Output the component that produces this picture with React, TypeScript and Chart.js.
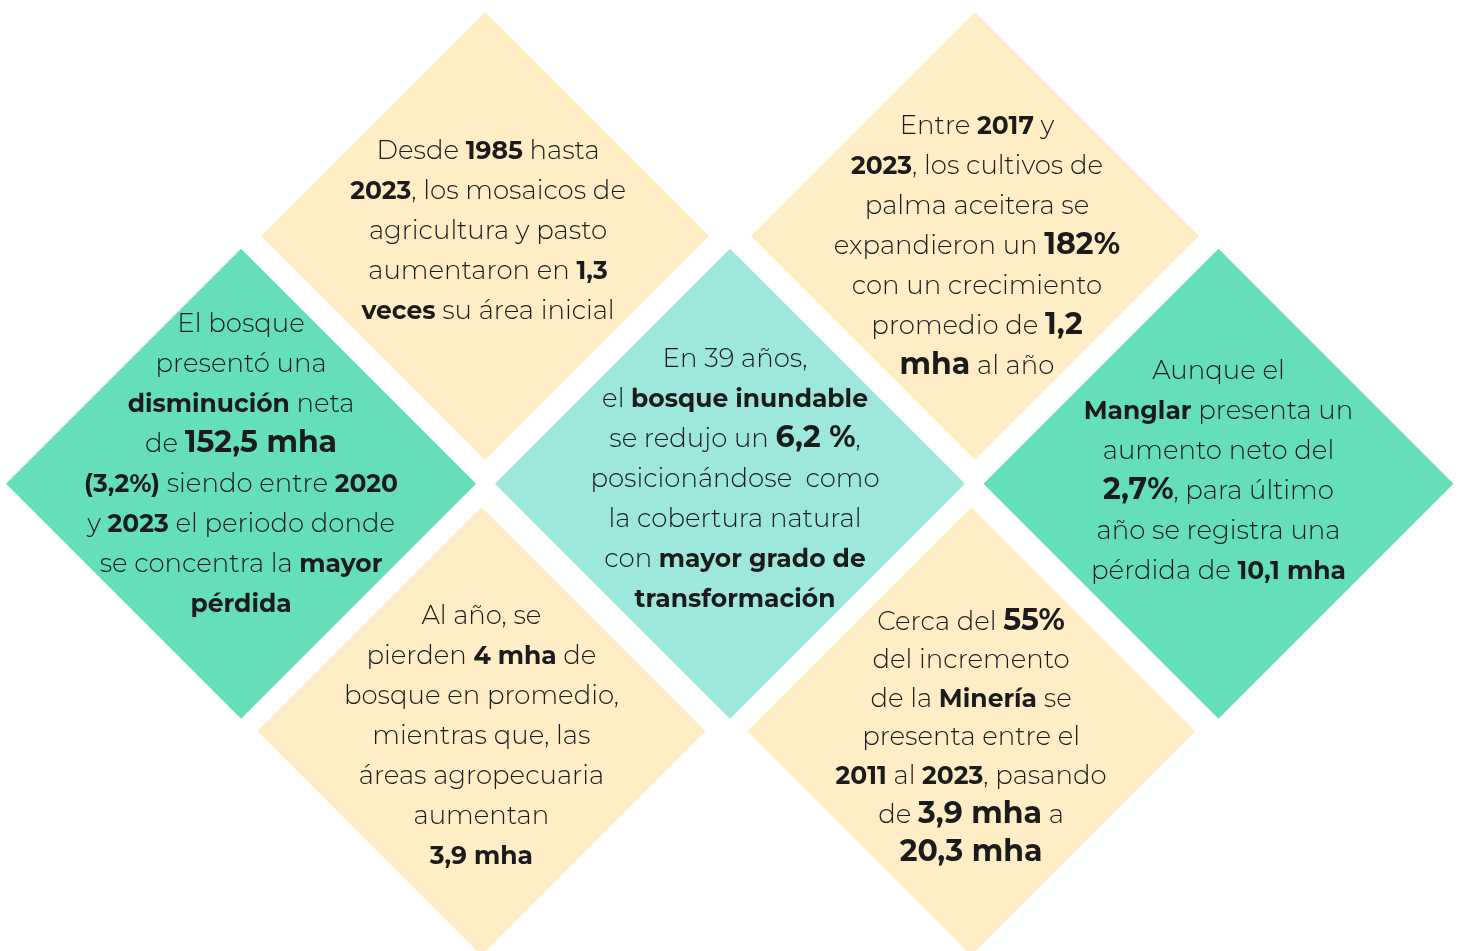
import React, { useEffect, useRef } from 'react';
import { Chart, registerables } from 'chart.js';

Chart.register(...registerables);

// Diamond grid positions (column / row units) and categories
const diamondCols = [1.992, 4.004, 0.99, 2.998, 5.004, 1.977, 3.988];
const diamondRows = [0, 0, 1, 1, 1, 2, 2];
const diamondKinds = ['agro', 'agro', 'bosque', 'inundable', 'bosque', 'agro', 'agro'];
const diamondHalf = [0.92, 0.92, 0.965, 0.965, 0.965, 0.92, 0.92];

const kindColors: Record<string, string> = {
  agro: '#FFEDC5',
  bosque: '#64DFBA',
  inundable: '#9DE7DC',
};

// Text: **bold**, ##bold big##
const text1 = [
  'Desde **1985** hasta',
  '**2023**, los mosaicos de',
  'agricultura y pasto',
  'aumentaron en **1,3**',
  '**veces** su área inicial',
];
const text2 = [
  'Entre **2017** y',
  '**2023**, los cultivos de',
  'palma aceitera se',
  'expandieron un ##182%##',
  'con un crecimiento',
  'promedio de ##1,2##',
  '##mha## al año',
];
const text3 = [
  'El bosque',
  'presentó una',
  '**disminución** neta',
  'de ##152,5 mha##',
  '**(3,2%)** siendo entre **2020**',
  'y **2023** el periodo donde',
  'se concentra la **mayor**',
  '**pérdida**',
];
const text4 = [
  'En 39 años,',
  'el **bosque inundable**',
  'se redujo un ##6,2 %##,',
  'posicionándose  como',
  'la cobertura natural',
  'con **mayor grado de**',
  '**transformación**',
];
const text5 = [
  'Aunque el',
  '**Manglar** presenta un',
  'aumento neto del',
  '##2,7%##, para último',
  'año se registra una',
  'pérdida de **10,1 mha**',
];
const text6 = [
  'Al año, se',
  'pierden **4 mha** de',
  'bosque en promedio,',
  'mientras que, las',
  'áreas agropecuaria',
  'aumentan',
  '**3,9 mha**',
];
const text7 = [
  'Cerca del ##55%##',
  'del incremento',
  'de la **Minería** se',
  'presenta entre el',
  '**2011** al **2023**, pasando',
  'de ##3,9 mha## a',
  '##20,3 mha##',
];
const diamondTexts = [text1, text2, text3, text4, text5, text6, text7];

// Text layout (pixel offsets from diamond centre, line heights)
const textDx = [3, 2, 0, 5, 0, 0, 0];
const textDy = [-6, 9, -21, -6, -14, 4, 5];
const lineHeights = [40, 40, 40, 40, 40, 40, 38.6];

const FONT = 'Montserrat, Inter, "Noto Sans", sans-serif';
const REG = `300 26px ${FONT}`;
const BOLD = `700 25px ${FONT}`;
const BIG = `700 30px ${FONT}`;
const TEXT_COLOR = '#1b1b1b';

function parseLine(line: string) {
  const parts = line.split(/(\*\*[^*]+\*\*|##[^#]+##)/).filter((p) => p.length > 0);
  return parts.map((p) => {
    if (p.startsWith('**')) return { t: p.slice(2, -2), f: BOLD };
    if (p.startsWith('##')) return { t: p.slice(2, -2), f: BIG };
    return { t: p, f: REG };
  });
}

const textPlugin = {
  id: 'diamondText',
  afterDatasetsDraw(chart: any) {
    const ctx = chart.ctx as CanvasRenderingContext2D;
    const meta = chart.getDatasetMeta(0);
    ctx.save();
    ctx.fillStyle = TEXT_COLOR;
    ctx.textBaseline = 'alphabetic';
    ctx.textAlign = 'left';
    meta.data.forEach((pt: any, i: number) => {
      const lines = diamondTexts[i];
      const lh = lineHeights[i];
      const cx = pt.x + textDx[i];
      const cy = pt.y + textDy[i];
      const top = cy - ((lines.length - 1) * lh) / 2;
      lines.forEach((line, j) => {
        const segs = parseLine(line);
        let total = 0;
        const widths = segs.map((s) => {
          ctx.font = s.f;
          const w = ctx.measureText(s.t).width;
          total += w;
          return w;
        });
        let x = cx - total / 2;
        const baseline = top + j * lh + 9;
        segs.forEach((s, k) => {
          ctx.font = s.f;
          ctx.fillText(s.t, x, baseline);
          x += widths[k];
        });
      });
    });
    ctx.restore();
  },
};

export default function App() {
  const canvasRef = useRef<HTMLCanvasElement | null>(null);

  useEffect(() => {
    if (!canvasRef.current) return;
    const points = diamondCols.map((c, i) => ({ x: c, y: diamondRows[i] }));
    const chart = new Chart(canvasRef.current, {
      type: 'scatter',
      data: {
        datasets: [
          {
            data: points,
            pointStyle: 'rectRot',
            backgroundColor: diamondKinds.map((k) => kindColors[k]),
            borderWidth: 0,
            borderColor: 'rgba(0,0,0,0)',
            pointRadius: (c: any) => {
              const s = c.chart.scales.x;
              const h = diamondHalf[c.dataIndex] ?? 0.92;
              return s.getPixelForValue(h) - s.getPixelForValue(0);
            },
            clip: false as any,
          },
        ],
      },
      options: {
        animation: false,
        responsive: false,
        events: [],
        layout: { padding: 0 },
        plugins: {
          legend: { display: false },
          tooltip: { enabled: false },
        },
        scales: {
          x: { type: 'linear', min: 0, max: 6, display: false },
          y: { type: 'linear', min: -0.953, max: 2.887, reverse: true, display: false },
        },
      },
      plugins: [textPlugin],
    });
    return () => chart.destroy();
  }, []);

  return (
    <div style={{ position: 'fixed', left: 0, top: 0, width: 1461, height: 951, background: '#ffffff' }}>
      <canvas ref={canvasRef} width={1461} height={951} style={{ width: 1461, height: 951, display: 'block' }} />
    </div>
  );
}
